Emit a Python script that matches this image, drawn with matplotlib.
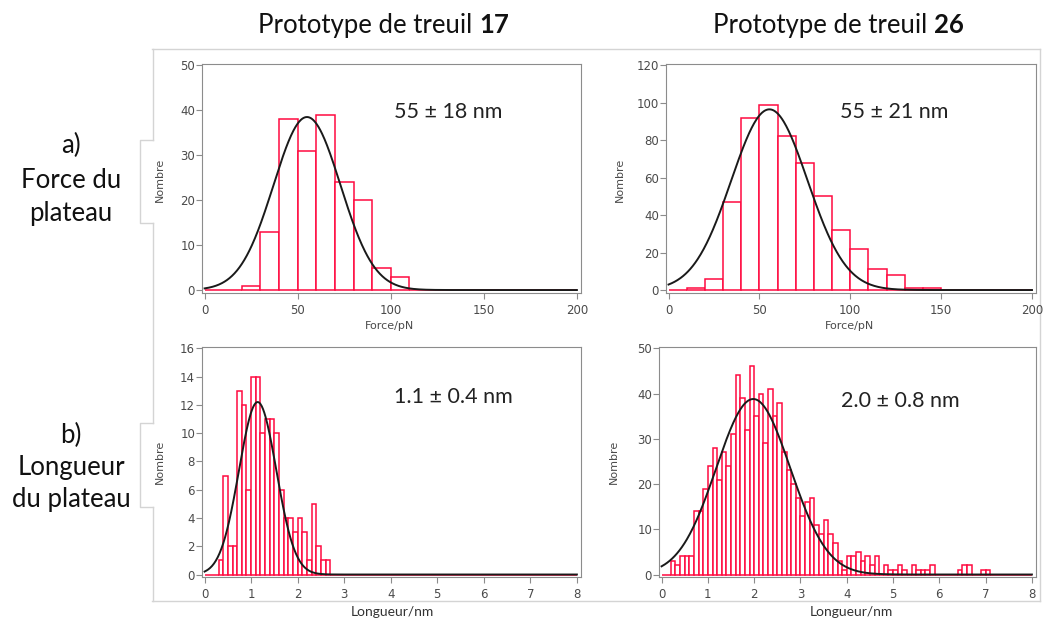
import matplotlib
matplotlib.use('Agg')
import matplotlib.pyplot as plt
from matplotlib.lines import Line2D
import numpy as np

W, H = 1051, 619
RED = '#ff0a40'
GREY_TXT = '#4a4a4a'
SPINE = '#8c8c8c'
BORDER = '#d4d4d4'

# Force histograms (10 pN bins starting at 0)
force17_counts = [0, 0, 1, 13, 38, 31, 39, 24, 20, 5, 3]
force26_counts = [0, 1, 6, 47, 92, 99, 82, 68, 50, 32, 22, 11, 8, 1, 1]

# Length histograms (0.1 nm bins)
length17_start = 0.3
length17_counts = [1, 7, 2, 2, 13, 12, 6, 14, 14, 10, 11, 11, 10, 6, 4, 4, 3,
                   4, 3, 1, 5, 2, 1, 1]
length26_start = 0.0
length26_counts = [0, 0, 3, 2, 4, 4, 4, 14, 14, 19,
                   24, 28, 21, 27, 24, 31, 44, 39, 32, 46,
                   35, 40, 29, 41, 35, 38, 27, 23, 20, 17,
                   13, 16, 17, 11, 9, 12, 9, 7, 3, 1,
                   4, 4, 5, 3, 4, 2, 4, 0, 2, 1,
                   1, 2, 1, 0, 2, 1, 1, 1, 2, 0,
                   0, 0, 0, 0, 1, 2, 2, 0, 0, 1, 1]

# Gaussian fits: mean, sigma, peak height
fit17_force = [55, 18, 38.5]
fit26_force = [55.5, 21, 96.5]
fit17_length = [1.14, 0.4, 12.2]
fit26_length = [1.98, 0.8, 38.8]

stat_labels = ['55 ± 18 nm', '55 ± 21 nm', '1.1 ± 0.4 nm', '2.0 ± 0.8 nm']
column_titles = ['Prototype de treuil ', 'Prototype de treuil ']
column_numbers = ['17', '26']

fig = plt.figure(figsize=(W / 100, H / 100), dpi=100)
fig.patch.set_facecolor('white')

# pixel-space layer for free text and the outer frame
bg = fig.add_axes([0, 0, 1, 1], zorder=-1)
bg.set_xlim(0, W)
bg.set_ylim(H, 0)
bg.axis('off')


def draw_panel(rect, bin_start, bin_width, counts, x_max, x_step, y_max, y_step,
               fit, stat_text, stat_xy):
    l, t, r, b = rect
    ax = fig.add_axes([l / W, 1 - b / H, (r - l) / W, (b - t) / H])
    n_bins = int(round(x_max / bin_width))
    heights = np.zeros(n_bins)
    i0 = int(round(bin_start / bin_width))
    heights[i0:i0 + len(counts)] = counts
    lefts = np.arange(n_bins) * bin_width
    ax.bar(lefts, heights, width=bin_width, align='edge', facecolor='white',
           edgecolor=RED, linewidth=1.1, zorder=2)
    mu, sigma, peak = fit
    xs = np.linspace(0, x_max, 600)
    ax.plot(xs, peak * np.exp(-0.5 * ((xs - mu) / sigma) ** 2),
            color='#1a1a1a', lw=1.4, zorder=3)
    ax.set_xlim(-0.007 * x_max, 1.011 * x_max)
    ax.set_ylim(-0.011 * y_max, 1.006 * y_max)
    ax.set_xticks(np.arange(0, x_max + x_step / 2, x_step))
    ax.set_yticks(np.arange(0, y_max + y_step / 2, y_step))
    ax.tick_params(axis='x', length=4, width=0.8, pad=4, color=SPINE,
                   labelcolor=GREY_TXT, labelsize=8.5)
    ax.tick_params(axis='y', length=4, width=0.8, pad=1, color=SPINE,
                   labelcolor=GREY_TXT, labelsize=8.5)
    for s in ax.spines.values():
        s.set_color(SPINE)
        s.set_linewidth(0.8)
    ax.text(stat_xy[0], stat_xy[1], stat_text, transform=ax.transAxes,
            ha='center', va='center', fontsize=15.5, family='Lato', color='#222222')
    return ax


ax_tl = draw_panel((202, 64, 581, 292.5), 0, 10, force17_counts, 200, 50, 50, 10,
                   fit17_force, stat_labels[0], (0.649, 0.79))
ax_tr = draw_panel((666, 64, 1036, 292.5), 0, 10, force26_counts, 200, 50, 120, 20,
                   fit26_force, stat_labels[1], (0.616, 0.79))
ax_bl = draw_panel((202, 347, 581, 577), length17_start, 0.1, length17_counts, 8, 1, 16, 2,
                   fit17_length, stat_labels[2], (0.662, 0.783))
ax_br = draw_panel((659, 347, 1036, 577), length26_start, 0.1, length26_counts, 8, 1, 50, 10,
                   fit26_length, stat_labels[3], (0.639, 0.765))

# axis labels
for x, y in [(160, 180), (620, 180), (160, 462), (614, 462)]:
    bg.text(x, y, 'Nombre', rotation=90, ha='center', va='center',
            fontsize=8, color=GREY_TXT)
for x in (390, 850):
    bg.text(x, 326, 'Force/pN', ha='center', va='center', fontsize=8, color=GREY_TXT)
for x in (392, 851):
    bg.text(x, 612, 'Longueur/nm', ha='center', va='center', fontsize=10,
            family='Lato', color='#333333')

# column titles with bold prototype number
for x0, title, num in zip((258, 713), column_titles, column_numbers):
    t = bg.text(x0, 25, title, ha='left', va='center', fontsize=18.5,
                family='Lato', color='#111111')
    bg.annotate(num, xy=(1, 0.5), xycoords=t, ha='left', va='center',
                fontsize=18.5, family='Lato', fontweight='bold', color='#111111')

# row labels
for y, s in [(145, 'a)'), (180, 'Force du'), (213, 'plateau'),
             (435, 'b)'), (468, 'Longueur'), (500, 'du plateau')]:
    bg.text(71, y, s, ha='center', va='center', fontsize=18.5, family='Lato',
            color='#111111')

# outer frame of the chart block, with the two side tabs
frame = [((152, 1040), (49, 49)), ((1040, 1040), (49, 601)), ((152, 1040), (601, 601)),
         ((153, 153), (49, 140)), ((153, 153), (223, 423)), ((153, 153), (507, 601)),
         ((153, 140, 140, 153), (140, 140, 223, 223)),
         ((153, 140, 140, 153), (423, 423, 507, 507))]
for xs, ys in frame:
    bg.add_line(Line2D(xs, ys, color=BORDER, lw=1.0))

fig.savefig('out.png', dpi=100, facecolor='white')
